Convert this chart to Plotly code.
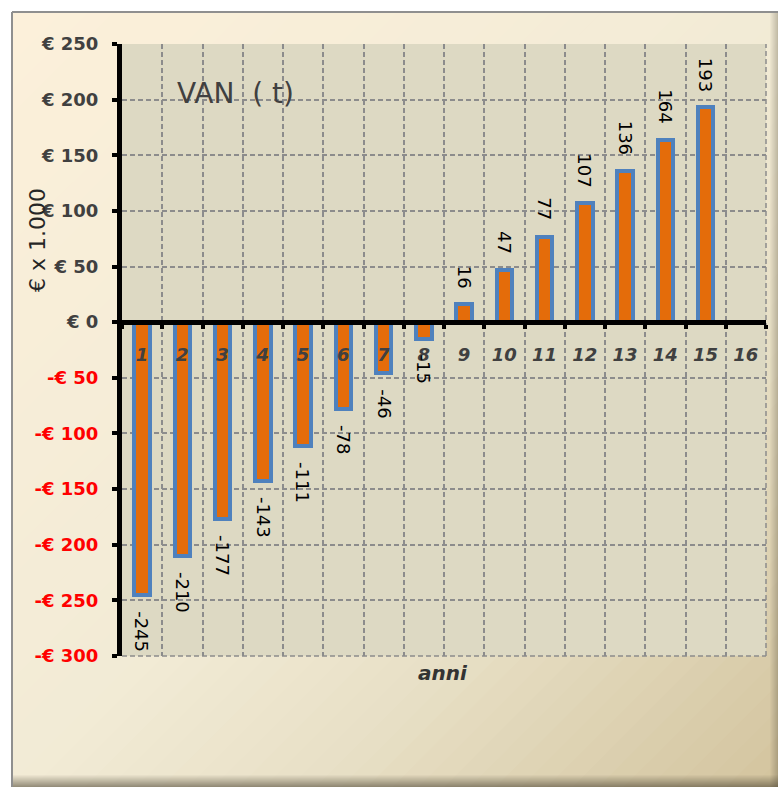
import plotly.graph_objects as go

# ---- data -------------------------------------------------------------
anni = list(range(1, 17))                      # years shown on the axis
van = [-245, -210, -177, -143, -111, -78, -46, -15,
       16, 47, 77, 107, 136, 164, 193]        # VAN(t), thousands of euro
y_ticks = list(range(-300, 251, 50))

# ---- geometry of the canvas -------------------------------------------
W, H = 778, 787
ML, MR, MT, MB = 122, 12, 44, 131
PW, PH = W - ML - MR, H - MT - MB


def px(x):
    return (x - ML) / PW


def py(y):
    return (H - MB - y) / PH


def hex2rgb(h):
    h = h.lstrip("#")
    return tuple(int(h[i:i + 2], 16) for i in (0, 2, 4))


def lerp_color(stops, t):
    for (t0, c0), (t1, c1) in zip(stops, stops[1:]):
        if t0 <= t <= t1:
            f = (t - t0) / (t1 - t0)
            a, b = hex2rgb(c0), hex2rgb(c1)
            return "rgb(%d,%d,%d)" % tuple(round(a[k] + (b[k] - a[k]) * f) for k in range(3))
    return stops[-1][1]


def clip(poly, a, b, c):
    """Keep the part of poly where a*x + b*y >= c."""
    out = []
    n = len(poly)
    for i in range(n):
        p, q = poly[i], poly[(i + 1) % n]
        fp = a * p[0] + b * p[1] - c
        fq = a * q[0] + b * q[1] - c
        if fp >= 0:
            out.append(p)
        if (fp >= 0) != (fq >= 0):
            t = fp / (fp - fq)
            out.append((p[0] + (q[0] - p[0]) * t, p[1] + (q[1] - p[1]) * t))
    return out


def path(poly):
    return "M " + " L ".join("%.5f,%.5f" % (px(x), py(y)) for x, y in poly) + " Z"


shapes = []

# diagonal parchment gradient of the chart area
BX0, BY0, BX1, BY1 = 12, 12, 778, 787
box = [(BX0, BY0), (BX1, BY0), (BX1, BY1), (BX0, BY1)]
stops = [(0.0, "#fcf0da"), (0.5, "#f2ebd6"), (0.7, "#e8e0c6"),
         (0.88, "#dbcfae"), (1.0, "#d3c49e")]
S0, S1 = BX0 + BY0, BX1 + BY1
N = 60
for i in range(N):
    c0 = S0 + (S1 - S0) * i / N
    c1 = S0 + (S1 - S0) * (i + 1) / N + 1.5
    poly = clip(clip(box, 1, 1, c0), -1, -1, -c1)
    if len(poly) < 3:
        continue
    shapes.append(dict(type="path", xref="paper", yref="paper", layer="below",
                       path=path(poly), fillcolor=lerp_color(stops, (i + 0.5) / N),
                       line=dict(width=0)))

# soft inner shadow along the bottom and right edges
for k in range(12):
    a = 0.04 + 0.045 * k
    y0 = BY1 - 12 + k
    shapes.append(dict(type="rect", xref="paper", yref="paper", layer="below",
                       x0=px(BX0), x1=px(BX1), y0=py(y0), y1=py(y0 + 1),
                       fillcolor="rgba(70,62,45,%.3f)" % a, line=dict(width=0)))
for k in range(8):
    a = 0.03 + 0.035 * k
    x0 = BX1 - 8 + k
    shapes.append(dict(type="rect", xref="paper", yref="paper", layer="below",
                       x0=px(x0), x1=px(x0 + 1), y0=py(BY0), y1=py(BY1),
                       fillcolor="rgba(70,62,45,%.3f)" % a, line=dict(width=0)))

# thin grey frame on the left and top
shapes.append(dict(type="line", xref="paper", yref="paper", layer="below",
                   x0=px(12), x1=px(12), y0=py(12), y1=py(787),
                   line=dict(color="#8f8f8f", width=2)))
shapes.append(dict(type="line", xref="paper", yref="paper", layer="below",
                   x0=px(12), x1=px(778), y0=py(12), y1=py(12),
                   line=dict(color="#8f8f8f", width=2)))

# plot area fill
shapes.append(dict(type="rect", xref="paper", yref="paper", layer="below",
                   x0=0, x1=1, y0=0, y1=1, fillcolor="#ddd9c3", line=dict(width=0)))

# dashed grid lines on the right and bottom edges of the plot area
EDGE = dict(color="#8c8c8c", width=1.5, dash="5px,3px")
shapes.append(dict(type="line", xref="paper", yref="paper", layer="below",
                   x0=1, x1=1, y0=0, y1=1, line=EDGE))
shapes.append(dict(type="line", xref="paper", yref="paper", layer="below",
                   x0=0, x1=1, y0=0, y1=0, line=EDGE))

# ---- figure -----------------------------------------------------------
fig = go.Figure()
fig.add_trace(go.Bar(
    x=anni[:len(van)], y=van, width=0.38,
    marker=dict(color="#e46c0a", line=dict(color="#4f81bd", width=4)),
    cliponaxis=False, hoverinfo="x+y",
))

GRID = dict(showgrid=True, gridcolor="#8c8c8c", gridwidth=1.5, griddash="5px,3px")

y_text = []
for v in y_ticks:
    if v < 0:
        y_text.append("<span style='color:#ff0000'>-€ %d</span>" % -v)
    else:
        y_text.append("€ %d" % v)

annotations = []
for x, v in zip(anni, van):
    annotations.append(dict(
        x=x, y=v, xref="x", yref="y", text=str(v), showarrow=False,
        textangle=90, yanchor="bottom" if v >= 0 else "top",
        yshift=14 if v >= 0 else -14,
        font=dict(family="DejaVu Sans", size=18, color="#000000"),
    ))

annotations += [
    dict(x=px(175), y=py(93), xref="paper", yref="paper", xanchor="left",
         yanchor="middle", text="VAN\u00a0\u00a0( t)", showarrow=False,
         font=dict(family="DejaVu Sans", size=28, color="#404040")),
    dict(x=px(38), y=py(240), xref="paper", yref="paper", xanchor="center",
         yanchor="middle", text="€ x 1.000", textangle=-90, showarrow=False,
         font=dict(family="DejaVu Sans", size=22, color="#262626")),
    dict(x=px(443), y=py(673), xref="paper", yref="paper", xanchor="center",
         yanchor="middle", text="anni", showarrow=False,
         font=dict(family="DejaVu Sans", size=20, color="#333333",
                   weight="bold", style="italic")),
]

fig.update_layout(
    width=W, height=H, autosize=False,
    margin=dict(l=ML, r=MR, t=MT, b=MB, pad=0),
    paper_bgcolor="#ffffff", plot_bgcolor="rgba(0,0,0,0)",
    showlegend=False, bargap=0,
    shapes=shapes, annotations=annotations,
    xaxis=dict(
        range=[0.5, 16.5], anchor="free",
        position=(0 - y_ticks[0]) / (y_ticks[-1] - y_ticks[0]),
        tickmode="array", tickvals=anni, ticktext=[str(a) for a in anni],
        ticks="", showgrid=False, zeroline=False,
        showline=True, linecolor="#000000", linewidth=5,
        tickfont=dict(family="DejaVu Sans", size=18, color="#404040",
                      weight="bold", style="italic"),
        ticklabelstandoff=14,
        minor=dict(tickmode="array", tickvals=[a - 0.5 for a in anni] + [anni[-1] + 0.5],
                   ticks="outside", ticklen=4, tickwidth=4, tickcolor="#000000", **GRID),
    ),
    yaxis=dict(
        range=[y_ticks[0], y_ticks[-1]],
        tickmode="array", tickvals=y_ticks, ticktext=y_text,
        ticks="outside", ticklen=5, tickwidth=4, tickcolor="#000000",
        showline=True, linecolor="#000000", linewidth=5, zeroline=False,
        tickfont=dict(family="DejaVu Sans", size=18, color="#404040", weight="bold"),
        ticklabelstandoff=10,
        **GRID,
    ),
)

fig.write_html("out.html")
